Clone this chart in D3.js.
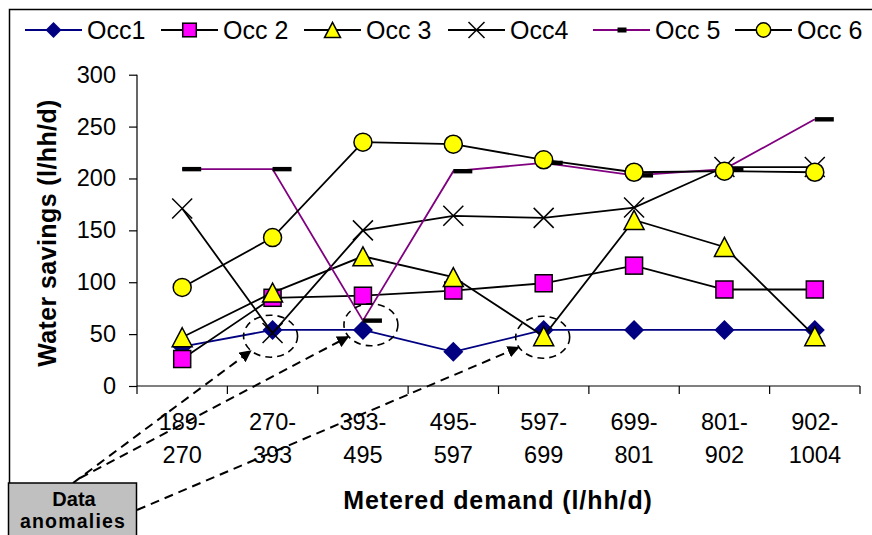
<!DOCTYPE html>
<html><head><meta charset="utf-8">
<script src="https://cdn.jsdelivr.net/npm/d3@7"></script>
<style>body{margin:0;background:#fff;overflow:hidden}</style>
</head><body>
<svg id="c" width="872" height="535"></svg>
<script>
// ---- data ----
const categories = ["189-270","270-393","393-495","495-597","597-699","699-801","801-902","902-1004"];
const seriesNames = ["Occ1","Occ 2","Occ 3","Occ4","Occ 5","Occ 6"];
const occ1 = [38, 54, 54, 33, 54, 54, 54, 54];
const occ2 = [26, 85, 87, 92, 99, 116, 93, 93];
const occ3 = [47, 90, 125, 105, 48, 160, 134, 48];
const occ4 = [171, 51, 150, 164, 162, 172, 211, 211];
const occ5 = [209, 209, 63, 207, 215, 203, 209, 257];
const occ6 = [95, 143, 235, 233, 218, 206, 207, 206];
const yTicks = [0, 50, 100, 150, 200, 250, 300];
const anomalyCats = ["270-393", "393-495", "597-699"];
const anomalyVals = [48, 59, 47];
const yTitle = "Water savings (l/hh/d)";
const xTitle = "Metered demand (l/hh/d)";
const noteLines = ["Data", "anomalies"];

// ---- styles ----
const styles = [
  {line:"#000080", marker:"diamond"},
  {line:"#000000", marker:"square"},
  {line:"#000000", marker:"triangle"},
  {line:"#000000", marker:"x"},
  {line:"#800080", marker:"dash"},
  {line:"#000000", marker:"circle"}
];
const allSeries = [occ1, occ2, occ3, occ4, occ5, occ6];
const FONT = "Liberation Sans, Arial, sans-serif";

const svg = d3.select("#c");
const x = d3.scaleBand().domain(categories).range([137, 860]).padding(0);
const y = d3.scaleLinear().domain([0, 300]).range([386, 74.7]);
const cx = c => x(c) + x.bandwidth() / 2;

// outer frame (cropped)
svg.append("path").attr("d", "M9.5,600 L9.5,9.5 L900,9.5")
  .attr("fill", "none").attr("stroke", "#000").attr("stroke-width", 1.5);

// y axis
const yAxis = d3.axisLeft(y).tickValues(yTicks).tickSize(8).tickPadding(13);
const gy = svg.append("g").attr("transform", "translate(137,0)").call(yAxis);
gy.select(".domain").attr("stroke", "#000").attr("stroke-width", 1.2).attr("d", `M0,${y(300)}V${y(0)}`);
gy.selectAll(".tick line").attr("stroke", "#000").attr("stroke-width", 1.2);
gy.selectAll(".tick text").attr("font-family", FONT).attr("font-size", 23.5).attr("fill", "#000");

// x axis
const gx = svg.append("g").attr("transform", `translate(0,${y(0)})`);
gx.append("line").attr("x1", 137).attr("x2", 860).attr("y1", 0).attr("y2", 0)
  .attr("stroke", "#000").attr("stroke-width", 1.2);
const bounds = categories.map(c => x(c)).concat([x.range()[1]]);
gx.selectAll("line.tk").data(bounds).enter().append("line").attr("class", "tk")
  .attr("x1", d => d).attr("x2", d => d).attr("y1", 0).attr("y2", 8)
  .attr("stroke", "#000").attr("stroke-width", 1.2);
const lbl = gx.selectAll("text.cat").data(categories).enter().append("text").attr("class", "cat")
  .attr("font-family", FONT).attr("font-size", 23.5).attr("text-anchor", "middle");
lbl.append("tspan").attr("x", d => cx(d)).attr("y", 44).text(d => d.split("-")[0] + "-");
lbl.append("tspan").attr("x", d => cx(d)).attr("y", 77).text(d => d.split("-")[1]);

// titles
svg.append("text").attr("transform", "translate(56,233) rotate(-90)")
  .attr("text-anchor", "middle").attr("font-family", FONT).attr("font-weight", "bold")
  .attr("font-size", 25).attr("letter-spacing", 0.4).text(yTitle);
svg.append("text").attr("x", 498).attr("y", 509)
  .attr("text-anchor", "middle").attr("font-family", FONT).attr("font-weight", "bold")
  .attr("font-size", 25).attr("letter-spacing", 0.9).text(xTitle);

// marker drawing
function drawMarker(g, type, px, py, s) {
  if (type === "diamond") {
    const r = 10 * s;
    g.append("path").attr("d", `M${px},${py - r}L${px + r},${py}L${px},${py + r}L${px - r},${py}Z`)
      .attr("fill", "#000080");
  } else if (type === "square") {
    const h = 8.5 * s;
    g.append("rect").attr("x", px - h).attr("y", py - h).attr("width", 2 * h).attr("height", 2 * h)
      .attr("fill", "#ff00ff").attr("stroke", "#000").attr("stroke-width", 1.5);
  } else if (type === "triangle") {
    const w = 10 * s, h = 9.5 * s;
    g.append("path").attr("d", `M${px},${py - h}L${px + w},${py + h}L${px - w},${py + h}Z`)
      .attr("fill", "#ffff00").attr("stroke", "#000").attr("stroke-width", 1.5);
  } else if (type === "x") {
    const r = 10 * s;
    g.append("path").attr("d", `M${px - r},${py - r}L${px + r},${py + r}M${px - r},${py + r}L${px + r},${py - r}`)
      .attr("stroke", "#000").attr("stroke-width", 1.5).attr("fill", "none");
  } else if (type === "dash") {
    if (s === 1) {
      g.append("rect").attr("x", px).attr("y", py - 2.2).attr("width", 19).attr("height", 4.4).attr("fill", "#000");
    } else {
      g.append("rect").attr("x", px - 4).attr("y", py - 2.5).attr("width", 9).attr("height", 5).attr("fill", "#000");
    }
  } else if (type === "circle") {
    g.append("circle").attr("cx", px).attr("cy", py).attr("r", 9 * s)
      .attr("fill", "#ffff00").attr("stroke", "#000").attr("stroke-width", 1.5);
  }
}

// series
const line = d3.line().x((d, i) => cx(categories[i])).y(d => y(d));
allSeries.forEach((vals, si) => {
  const g = svg.append("g");
  g.append("path").datum(vals).attr("d", line).attr("fill", "none")
    .attr("stroke", styles[si].line).attr("stroke-width", 1.8);
  vals.forEach((v, i) => drawMarker(g, styles[si].marker, cx(categories[i]), y(v), 1));
});

// legend
const legendLineX = [25, 161, 304, 448, 593, 735];
const lg = svg.append("g");
seriesNames.forEach((name, i) => {
  const x0 = legendLineX[i], ly = 30;
  lg.append("line").attr("x1", x0).attr("x2", x0 + 57).attr("y1", ly).attr("y2", ly)
    .attr("stroke", styles[i].line).attr("stroke-width", 1.8);
  drawMarker(lg, styles[i].marker, x0 + 28.5, ly, 0.8);
  lg.append("text").attr("x", x0 + 62).attr("y", 39).attr("font-family", FONT)
    .attr("font-size", 25).text(name);
});

// annotation
const defs = svg.append("defs");
defs.append("marker").attr("id", "ah").attr("viewBox", "0 0 10 10").attr("refX", 9).attr("refY", 5)
  .attr("markerWidth", 6).attr("markerHeight", 6).attr("orient", "auto")
  .append("path").attr("d", "M0,0L10,5L0,10Z").attr("fill", "#000");

const ann = svg.append("g");
const offsets = [-2, 8, -1];
const starts = [[73, 483], [80, 478], [137, 510]];
anomalyCats.forEach((c, i) => {
  const ex = cx(c) + offsets[i], ey = y(anomalyVals[i]);
  const rx = 27, ry = 21;
  ann.append("ellipse").attr("cx", ex).attr("cy", ey).attr("rx", rx).attr("ry", ry)
    .attr("fill", "none").attr("stroke", "#000").attr("stroke-width", 1.6)
    .attr("stroke-dasharray", "7,5");
  const [sx, sy] = starts[i];
  const dx = sx - ex, dy = sy - ey;
  const t = 1 / Math.sqrt((dx * dx) / (rx * rx) + (dy * dy) / (ry * ry));
  const tx = ex + dx * t * 1.02, ty = ey + dy * t * 1.02;
  ann.append("line").attr("x1", sx).attr("y1", sy).attr("x2", tx).attr("y2", ty)
    .attr("stroke", "#000").attr("stroke-width", 2).attr("stroke-dasharray", "9,6")
    .attr("marker-end", "url(#ah)");
});

// note box
ann.append("rect").attr("x", 8.5).attr("y", 483).attr("width", 128).attr("height", 80)
  .attr("fill", "#c0c0c0").attr("stroke", "#000").attr("stroke-width", 1.5);
ann.append("text").attr("x", 74).attr("y", 506).attr("text-anchor", "middle")
  .attr("font-family", FONT).attr("font-weight", "bold").attr("font-size", 20).text(noteLines[0]);
ann.append("text").attr("x", 73).attr("y", 528).attr("text-anchor", "middle")
  .attr("font-family", FONT).attr("font-weight", "bold").attr("font-size", 19.5)
  .attr("letter-spacing", 1.2).text(noteLines[1]);
</script>
</body></html>
